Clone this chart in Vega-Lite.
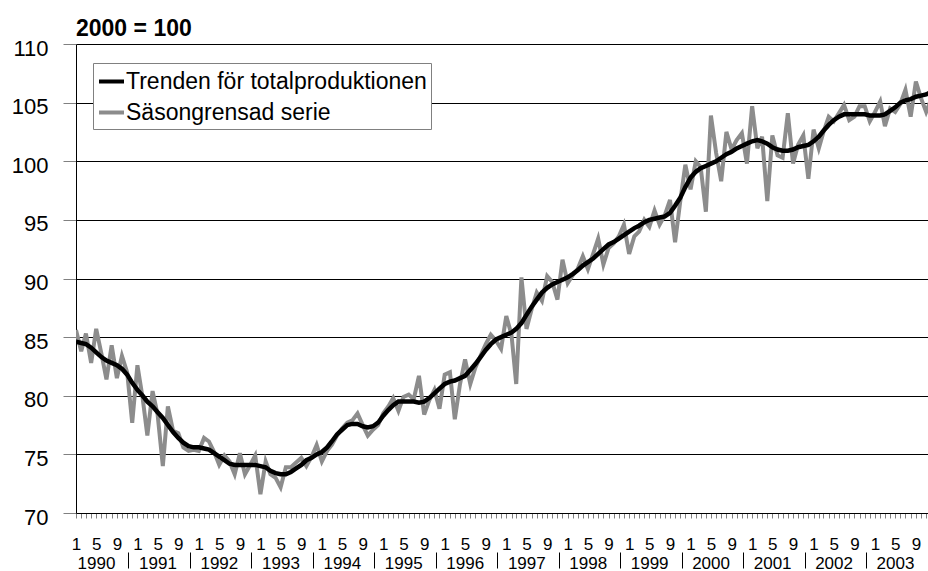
{
  "$schema": "https://vega.github.io/schema/vega-lite/v6.json",
  "width": 852,
  "height": 469,
  "autosize": {"type": "none"},
  "padding": {"left": 76, "top": 44, "right": 0, "bottom": 58},
  "background": "white",
  "title": {"text": "2000 = 100", "anchor": "start", "frame": "group", "font": "Liberation Sans", "fontSize": 23, "fontWeight": "bold", "color": "#000", "offset": -4},
  "config": {"view": {"stroke": null}, "axis": {"labelFont": "Liberation Sans", "labelColor": "#000"}},
  "datasets": {
    "m": [
      {"d":"1990-01","t":84.6,"s":85.6},{"d":"1990-02","t":84.5,"s":83.8},{"d":"1990-03","t":84.4,"s":85.3},{"d":"1990-04","t":84.1,"s":82.8},{"d":"1990-05","t":83.7,"s":85.7},{"d":"1990-06","t":83.3,"s":83.6},{"d":"1990-07","t":83.0,"s":81.4},{"d":"1990-08","t":82.8,"s":84.3},{"d":"1990-09","t":82.6,"s":81.5},{"d":"1990-10","t":82.3,"s":83.4},{"d":"1990-11","t":81.8,"s":82.0},{"d":"1990-12","t":81.1,"s":77.7},
      {"d":"1991-01","t":80.5,"s":82.6},{"d":"1991-02","t":80.0,"s":79.8},{"d":"1991-03","t":79.5,"s":76.6},{"d":"1991-04","t":79.1,"s":80.4},{"d":"1991-05","t":78.6,"s":78.4},{"d":"1991-06","t":78.1,"s":74.0},{"d":"1991-07","t":77.5,"s":79.1},{"d":"1991-08","t":76.9,"s":77.0},{"d":"1991-09","t":76.4,"s":76.8},{"d":"1991-10","t":76.0,"s":75.6},{"d":"1991-11","t":75.7,"s":75.3},{"d":"1991-12","t":75.6,"s":75.4},
      {"d":"1992-01","t":75.6,"s":75.3},{"d":"1992-02","t":75.5,"s":76.4},{"d":"1992-03","t":75.4,"s":76.1},{"d":"1992-04","t":75.1,"s":75.2},{"d":"1992-05","t":74.8,"s":74.1},{"d":"1992-06","t":74.5,"s":74.9},{"d":"1992-07","t":74.2,"s":74.4},{"d":"1992-08","t":74.1,"s":73.3},{"d":"1992-09","t":74.1,"s":75.1},{"d":"1992-10","t":74.1,"s":73.3},{"d":"1992-11","t":74.1,"s":74.1},{"d":"1992-12","t":74.1,"s":74.9},
      {"d":"1993-01","t":74.0,"s":71.6},{"d":"1993-02","t":73.9,"s":74.4},{"d":"1993-03","t":73.6,"s":73.3},{"d":"1993-04","t":73.4,"s":73.0},{"d":"1993-05","t":73.3,"s":72.2},{"d":"1993-06","t":73.3,"s":73.9},{"d":"1993-07","t":73.5,"s":73.9},{"d":"1993-08","t":73.8,"s":74.3},{"d":"1993-09","t":74.1,"s":74.7},{"d":"1993-10","t":74.5,"s":74.0},{"d":"1993-11","t":74.7,"s":74.8},{"d":"1993-12","t":75.0,"s":75.8},
      {"d":"1994-01","t":75.2,"s":74.4},{"d":"1994-02","t":75.6,"s":75.3},{"d":"1994-03","t":76.1,"s":75.8},{"d":"1994-04","t":76.7,"s":76.6},{"d":"1994-05","t":77.1,"s":77.2},{"d":"1994-06","t":77.5,"s":77.7},{"d":"1994-07","t":77.6,"s":77.9},{"d":"1994-08","t":77.6,"s":78.5},{"d":"1994-09","t":77.4,"s":77.5},{"d":"1994-10","t":77.3,"s":76.6},{"d":"1994-11","t":77.4,"s":77.1},{"d":"1994-12","t":77.7,"s":77.5},
      {"d":"1995-01","t":78.3,"s":78.5},{"d":"1995-02","t":78.8,"s":79.1},{"d":"1995-03","t":79.2,"s":79.8},{"d":"1995-04","t":79.5,"s":78.7},{"d":"1995-05","t":79.5,"s":79.9},{"d":"1995-06","t":79.5,"s":80.1},{"d":"1995-07","t":79.5,"s":79.7},{"d":"1995-08","t":79.4,"s":81.7},{"d":"1995-09","t":79.5,"s":78.4},{"d":"1995-10","t":79.8,"s":79.6},{"d":"1995-11","t":80.2,"s":80.5},{"d":"1995-12","t":80.6,"s":78.9},
      {"d":"1996-01","t":81.0,"s":81.8},{"d":"1996-02","t":81.2,"s":82.0},{"d":"1996-03","t":81.3,"s":78.0},{"d":"1996-04","t":81.5,"s":81.0},{"d":"1996-05","t":81.7,"s":83.1},{"d":"1996-06","t":82.2,"s":81.0},{"d":"1996-07","t":82.7,"s":82.4},{"d":"1996-08","t":83.3,"s":83.4},{"d":"1996-09","t":83.9,"s":84.4},{"d":"1996-10","t":84.4,"s":85.2},{"d":"1996-11","t":84.8,"s":84.7},{"d":"1996-12","t":85.0,"s":84.0},
      {"d":"1997-01","t":85.2,"s":86.8},{"d":"1997-02","t":85.4,"s":85.2},{"d":"1997-03","t":85.7,"s":81.0},{"d":"1997-04","t":86.2,"s":90.1},{"d":"1997-05","t":86.9,"s":85.7},{"d":"1997-06","t":87.6,"s":87.4},{"d":"1997-07","t":88.2,"s":88.8},{"d":"1997-08","t":88.8,"s":88.1},{"d":"1997-09","t":89.2,"s":90.2},{"d":"1997-10","t":89.5,"s":89.7},{"d":"1997-11","t":89.7,"s":88.2},{"d":"1997-12","t":89.9,"s":91.6},
      {"d":"1998-01","t":90.1,"s":89.6},{"d":"1998-02","t":90.4,"s":90.3},{"d":"1998-03","t":90.7,"s":90.8},{"d":"1998-04","t":91.1,"s":91.9},{"d":"1998-05","t":91.4,"s":90.8},{"d":"1998-06","t":91.7,"s":92.1},{"d":"1998-07","t":92.1,"s":93.4},{"d":"1998-08","t":92.5,"s":91.2},{"d":"1998-09","t":92.9,"s":92.6},{"d":"1998-10","t":93.1,"s":93.0},{"d":"1998-11","t":93.4,"s":93.6},{"d":"1998-12","t":93.7,"s":94.6},
      {"d":"1999-01","t":94.0,"s":92.1},{"d":"1999-02","t":94.3,"s":93.6},{"d":"1999-03","t":94.5,"s":94.0},{"d":"1999-04","t":94.8,"s":95.0},{"d":"1999-05","t":95.0,"s":94.4},{"d":"1999-06","t":95.1,"s":95.8},{"d":"1999-07","t":95.2,"s":94.6},{"d":"1999-08","t":95.3,"s":95.4},{"d":"1999-09","t":95.6,"s":96.7},{"d":"1999-10","t":96.2,"s":93.1},{"d":"1999-11","t":96.9,"s":96.6},{"d":"1999-12","t":97.8,"s":99.7},
      {"d":"2000-01","t":98.6,"s":97.6},{"d":"2000-02","t":99.1,"s":100.0},{"d":"2000-03","t":99.4,"s":99.5},{"d":"2000-04","t":99.6,"s":95.7},{"d":"2000-05","t":99.8,"s":103.9},{"d":"2000-06","t":100.0,"s":100.7},{"d":"2000-07","t":100.3,"s":98.3},{"d":"2000-08","t":100.6,"s":102.5},{"d":"2000-09","t":100.8,"s":101.0},{"d":"2000-10","t":101.1,"s":101.8},{"d":"2000-11","t":101.3,"s":102.4},{"d":"2000-12","t":101.5,"s":99.8},
      {"d":"2001-01","t":101.7,"s":104.7},{"d":"2001-02","t":101.8,"s":101.1},{"d":"2001-03","t":101.7,"s":102.1},{"d":"2001-04","t":101.5,"s":96.6},{"d":"2001-05","t":101.2,"s":102.2},{"d":"2001-06","t":101.0,"s":100.5},{"d":"2001-07","t":100.9,"s":100.3},{"d":"2001-08","t":100.9,"s":104.1},{"d":"2001-09","t":101.0,"s":99.8},{"d":"2001-10","t":101.2,"s":101.4},{"d":"2001-11","t":101.3,"s":102.2},{"d":"2001-12","t":101.4,"s":98.5},
      {"d":"2002-01","t":101.7,"s":102.7},{"d":"2002-02","t":102.1,"s":101.1},{"d":"2002-03","t":102.6,"s":102.5},{"d":"2002-04","t":103.1,"s":103.8},{"d":"2002-05","t":103.5,"s":103.4},{"d":"2002-06","t":103.8,"s":104.1},{"d":"2002-07","t":104.0,"s":104.8},{"d":"2002-08","t":104.0,"s":103.5},{"d":"2002-09","t":104.0,"s":103.8},{"d":"2002-10","t":104.0,"s":104.7},{"d":"2002-11","t":104.0,"s":104.7},{"d":"2002-12","t":103.9,"s":103.4},
      {"d":"2003-01","t":103.9,"s":104.2},{"d":"2003-02","t":103.9,"s":105.1},{"d":"2003-03","t":104.0,"s":103.0},{"d":"2003-04","t":104.3,"s":104.5},{"d":"2003-05","t":104.6,"s":104.2},{"d":"2003-06","t":105.0,"s":104.9},{"d":"2003-07","t":105.2,"s":106.1},{"d":"2003-08","t":105.3,"s":103.8},{"d":"2003-09","t":105.5,"s":106.8},{"d":"2003-10","t":105.6,"s":105.4},{"d":"2003-11","t":105.7,"s":104.2},{"d":"2003-12","t":105.9,"s":105.3}
    ],
    "yrs": [
      {"yr":"1990"},{"yr":"1991"},{"yr":"1992"},{"yr":"1993"},{"yr":"1994"},{"yr":"1995"},{"yr":"1996"},{"yr":"1997"},{"yr":"1998"},{"yr":"1999"},{"yr":"2000"},{"yr":"2001"},{"yr":"2002"},{"yr":"2003"}
    ]
  },
  "layer": [
    {
      "data": {"name": "m"},
      "mark": {"type": "line", "clip": true, "strokeWidth": 4},
      "encoding": {
        "x": {
          "field": "d", "type": "temporal",
          "scale": {"type": "utc", "domain": [{"year": 1990, "month": 1, "date": 1, "utc": true}, {"year": 2003, "month": 11, "date": 12, "utc": true}]},
          "axis": {
            "orient": "bottom", "title": null, "grid": false,
            "tickCount": {"interval": "month", "step": 1},
            "labelExpr": "utcmonth(datum.value) % 4 == 0 ? '' + (utcmonth(datum.value) + 1) : ''",
            "labelOverlap": false, "labelFlush": false, "labelBound": false, "labelAngle": 0,
            "labelFontSize": 17, "labelPadding": 18,
            "tickColor": "#808080", "tickSize": 5, "tickWidth": 1,
            "domainColor": "#000", "domainWidth": 1,
            "encode": {"ticks": {"update": {"y2": {"signal": "utcmonth(datum.value) % 4 == 0 ? 9 : 5"}}}}
          }
        },
        "y": {
          "field": "s", "type": "quantitative",
          "scale": {"domain": [70, 110], "nice": false, "zero": false},
          "axis": {
            "title": null, "values": [70, 75, 80, 85, 90, 95, 100, 105, 110],
            "grid": true, "gridColor": "#000", "gridWidth": 1,
            "tickColor": "#808080", "tickSize": 13, "labelFontSize": 22, "labelPadding": 15, "labelOffset": 4,
            "domainColor": "#000", "domainWidth": 1
          }
        },
        "color": {
          "datum": "Säsongrensad serie", "type": "nominal",
          "scale": {"domain": ["Trenden för totalproduktionen", "Säsongrensad serie"], "range": ["#000000", "#8c8c8c"]},
          "legend": {
            "orient": "none", "legendX": 17, "legendY": 19, "title": null,
            "symbolType": "stroke", "symbolSize": 625, "symbolStrokeWidth": 4,
            "labelFont": "Liberation Sans", "labelFontSize": 23, "labelColor": "#000", "labelOffset": 0, "labelLimit": 0,
            "strokeColor": "#808080", "fillColor": "#ffffff", "padding": 4, "rowPadding": 4
          }
        }
      }
    },
    {
      "data": {"name": "m"},
      "mark": {"type": "line", "clip": true, "strokeWidth": 4.5},
      "encoding": {
        "x": {"field": "d", "type": "temporal", "axis": null},
        "y": {"field": "t", "type": "quantitative"},
        "color": {"datum": "Trenden för totalproduktionen", "type": "nominal"}
      }
    },
    {
      "data": {"name": "yrs"},
      "mark": {"type": "rule", "opacity": 0},
      "encoding": {
        "x": {
          "field": "yr", "type": "temporal",
          "axis": {
            "orient": "bottom", "offset": 39, "title": null, "domain": false, "grid": false,
            "tickCount": {"interval": "year", "step": 1},
            "tickSize": 16, "tickColor": "#000", "tickWidth": 1, "tickOffset": -9,
            "tickOpacity": {"condition": {"test": "utcyear(datum.value) == 1990", "value": 0}, "value": 1},
            "labelOffset": 29, "labelPadding": -13,
            "labelExpr": "'' + utcyear(datum.value)",
            "labelFontSize": 17, "labelOverlap": false, "labelFlush": false, "labelBound": false, "labelAngle": 0
          }
        }
      }
    }
  ],
  "resolve": {"axis": {"x": "independent"}}
}
